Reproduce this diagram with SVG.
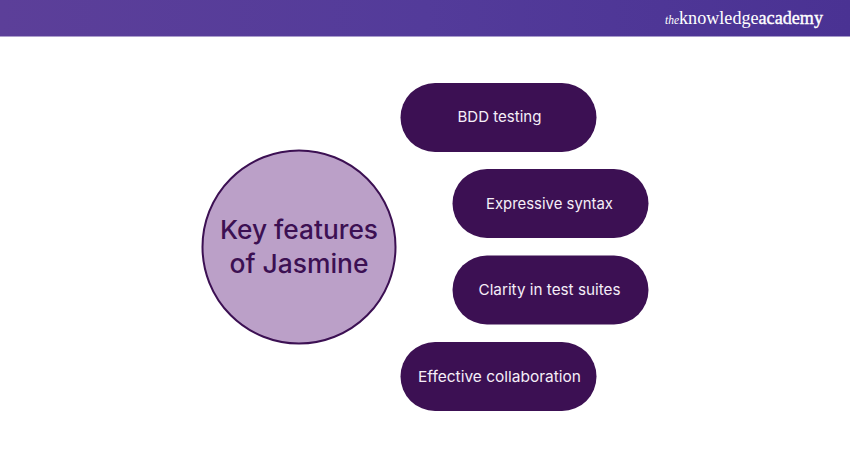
<svg xmlns="http://www.w3.org/2000/svg" width="850" height="450" viewBox="0 0 850 450">
<style>
.pill{fill:#3c1053}
.pt{fill:#f5eef8;font:400 15px "Inter","Noto Sans",sans-serif;text-anchor:middle}
.ct{fill:#3c1053;font:500 26px "Inter","Noto Sans",sans-serif;text-anchor:middle}
.logo{fill:#fff;font-family:"Liberation Serif",serif}
</style>
<defs><linearGradient id="hdr" x1="0" y1="0" x2="1" y2="0"><stop offset="0" stop-color="#5c3f99"/><stop offset="0.5" stop-color="#533b9a"/><stop offset="1" stop-color="#4a3293"/></linearGradient></defs>
<rect width="850" height="450" fill="#fff"/>
<g id="header"><rect width="850" height="36.500" fill="url(#hdr)"/>
<text class="logo" x="665" y="24" font-size="12" font-style="italic" textLength="14" lengthAdjust="spacingAndGlyphs">the</text>
<text class="logo" x="679" y="24" font-size="19" textLength="144" lengthAdjust="spacingAndGlyphs">knowledge<tspan stroke="#fff" stroke-width="0.4">academy</tspan></text></g>
<g id="connectors"></g>
<g id="center"><circle cx="299" cy="247" r="96.500" fill="#bba0c8" stroke="#3c1053" stroke-width="2"/>
<text class="ct" x="299" y="238.500" textLength="158" lengthAdjust="spacingAndGlyphs">Key features</text>
<text class="ct" x="299" y="272.500" textLength="139" lengthAdjust="spacingAndGlyphs">of Jasmine</text></g>
<g id="n1"><rect class="pill" x="400.500" y="83" width="196" height="69" rx="34.500"/><text class="pt" x="499.500" y="121.500" textLength="84" lengthAdjust="spacingAndGlyphs">BDD testing</text></g>
<g id="n2"><rect class="pill" x="452.500" y="169" width="196" height="69" rx="34.500"/><text class="pt" x="549.500" y="208.500" textLength="127" lengthAdjust="spacingAndGlyphs">Expressive syntax</text></g>
<g id="n3"><rect class="pill" x="452.500" y="255.500" width="196" height="69" rx="34.500"/><text class="pt" x="549.500" y="294.500" textLength="142" lengthAdjust="spacingAndGlyphs">Clarity in test suites</text></g>
<g id="n4"><rect class="pill" x="400.500" y="342" width="196" height="69" rx="34.500"/><text class="pt" x="499.500" y="381.500" textLength="163" lengthAdjust="spacingAndGlyphs">Effective collaboration</text></g>
</svg>
